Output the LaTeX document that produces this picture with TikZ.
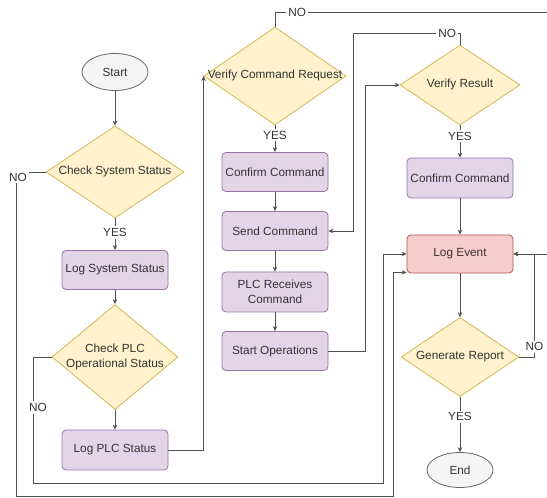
\documentclass[tikz,border=0pt]{standalone}
\usepackage{fontspec}
\setmainfont{Liberation Sans}
\usepackage{tikz}
\usetikzlibrary{arrows.meta,shapes.geometric,calc}
\definecolor{ink}{HTML}{333333}
\definecolor{wire}{HTML}{505050}
\definecolor{decfill}{HTML}{FFF2CC}
\definecolor{decbd}{HTML}{D6B656}
\definecolor{stepfill}{HTML}{E1D5E7}
\definecolor{stepbd}{HTML}{9673A6}
\definecolor{logfill}{HTML}{F8CECC}
\definecolor{logbd}{HTML}{B85450}
\definecolor{termfill}{HTML}{F5F5F5}
\definecolor{termbd}{HTML}{666666}
\newcommand{\dtxt}[1]{\makebox[0pt]{\begin{tabular}{@{}c@{}}#1\end{tabular}}}
\tikzset{
  every node/.style={font=\fontsize{11.8}{15}\selectfont,text=ink},
  term/.style={ellipse,draw=termbd,fill=termfill,line width=0.8pt,
               minimum width=66pt,minimum height=37pt,inner sep=0pt},
  decision/.style={diamond,draw=decbd,fill=decfill,line width=0.8pt,
                   inner sep=0pt},
  stepbox/.style={rectangle,draw=stepbd,fill=stepfill,rounded corners=4pt,
                  line width=0.8pt,minimum width=106pt,minimum height=39pt,
                  inner sep=2pt,align=center},
  logbox/.style={stepbox,draw=logbd,fill=logfill},
  flow/.style={-{Stealth[length=5pt,width=4.5pt]},wire,line width=0.7pt},
  lbl/.style={fill=white,inner sep=2pt},
}

\begin{document}
\begin{tikzpicture}[x=1pt,y=1pt]
  \useasboundingbox (0,0) rectangle (547,498);
  % Left column
  \node[term] (start) at (115,426) {Start};
  \node[decision,minimum width=138pt,minimum height=92pt] (chksys)
    at (115,326) {\dtxt{Check System Status}};
  \node[stepbox] (logsys) at (115,228) {Log System Status};
  \node[decision,minimum width=126pt,minimum height=105pt] (chkplc)
    at (115,141) {\dtxt{Check PLC\\Operational Status}};
  \node[stepbox,minimum height=40pt] (logplc) at (115,48) {Log PLC Status};
  % Middle column
  \node[decision,minimum width=142pt,minimum height=98pt] (vcmd)
    at (275,422) {\dtxt{Verify Command Request}};
  \node[stepbox] (conf1) at (275,326) {Confirm Command};
  \node[stepbox] (send) at (275,267) {Send Command};
  \node[stepbox,minimum height=40pt] (plcrx) at (275,206) {PLC Receives\\Command};
  \node[stepbox] (startop) at (275,147) {Start Operations};
  % Right column
  \node[decision,minimum width=120pt,minimum height=80pt] (vres)
    at (460,413) {\dtxt{Verify Result}};
  \node[stepbox,minimum height=40pt] (conf2) at (460,320) {Confirm Command};
  \node[logbox,minimum height=38pt] (logev) at (460,244) {Log Event};
  \node[decision,minimum width=118pt,minimum height=79pt] (genrep)
    at (460,141) {\dtxt{Generate Report}};
  \node[term,minimum height=35pt] (endn) at (460,28) {End};
  % Straight arrows
  \foreach \a/\b in {start/chksys,logsys/chkplc,chkplc/logplc,conf1/send,
                     send/plcrx,plcrx/startop,conf2/logev,logev/genrep}
    \draw[flow] (\a) -- (\b);
  % YES branches
  \draw[flow] (chksys) -- node[lbl,pos=0.45]{YES} (logsys);
  \draw[flow] (vcmd) -- node[lbl,pos=0.37]{YES} (conf1);
  \draw[flow] (vres) -- node[lbl,pos=0.33]{YES} (conf2);
  \draw[flow] (genrep) -- node[lbl,pos=0.36]{YES} (endn);
  % NO branches
  \draw[flow] (chksys.west) -| node[lbl,pos=0.5,xshift=2pt,yshift=-5pt]{NO}
    (16,1.5) -- (393,1.5) |- ($(logev.south west)+(0,1)$);
  \draw[flow] (chkplc.west) -| node[lbl,pos=0.7,xshift=5pt]{NO}
    (33,15) -- (383,15) |- (logev.west);
  \draw[flow] (vcmd.north) |- node[lbl,pos=0.54]{NO} (553,486) |- (logev.east);
  \draw[flow] (vres.north) |- node[lbl,pos=0.56]{NO} (353,465) |- (send.east);
  \draw[flow] (genrep.east) -- ++(15,0) |- node[lbl,pos=0.05]{NO} (logev.east);
  % Hand-over arrows
  \draw[flow] (logplc.east) -| (vcmd.west);
  \draw[flow] (startop.east) -- ++(37,0) |- (vres.west);
\end{tikzpicture}
\end{document}
